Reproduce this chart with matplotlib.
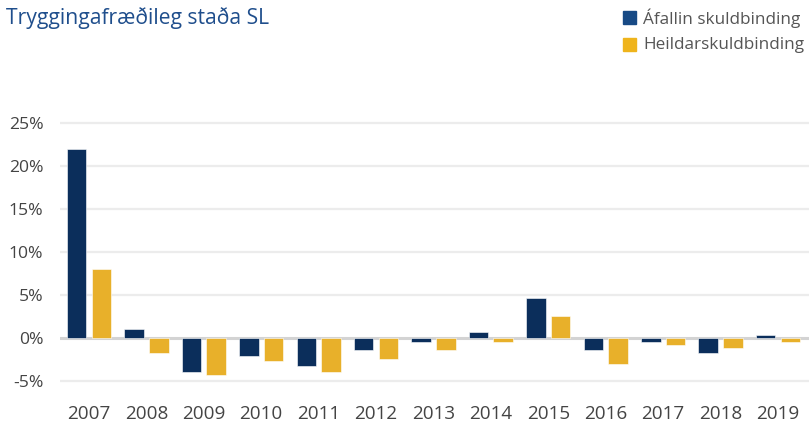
import matplotlib
matplotlib.use("Agg")
import matplotlib.pyplot as plt
import numpy as np

years = ["2007", "2008", "2009", "2010", "2011", "2012", "2013", "2014", "2015", "2016", "2017", "2018", "2019"]
afallin = [22.0, 1.0, -4.0, -2.1, -3.3, -1.4, -0.5, 0.7, 4.7, -1.4, -0.5, -1.8, 0.4]
heildar = [8.0, -1.8, -4.3, -2.7, -4.0, -2.4, -1.4, -0.5, 2.5, -3.0, -0.8, -1.2, -0.5]
yticks = [-5, 0, 5, 10, 15, 20, 25]
title = "Tryggingafræðileg staða SL"
series_names = ["Áfallin skuldbinding", "Heildarskuldbinding"]

navy = "#0b2e5b"
yellow = "#e8b02a"
plt.rcParams['font.family'] = ['Open Sans', 'DejaVu Sans']

fig = plt.figure(figsize=(8.09, 4.28), dpi=100)
ax = fig.add_axes([60/809, 0.0797, 1 - 60/809, 0.7327 - 0.0797])

x = np.arange(len(years))
w = 0.34
off = 0.215
ax.bar(x - off, afallin, width=w, color=navy, edgecolor="white", linewidth=0.4, zorder=3)
ax.bar(x + off, heildar, width=w, color=yellow, edgecolor="white", linewidth=0.4, zorder=3)

ax.set_xlim(-0.505, 12.54)
ax.set_ylim(-6.5, 26)
ax.set_yticks(yticks)
ax.set_yticklabels([f"{v}%" for v in yticks])
ax.set_xticks(x)
ax.set_xticklabels(years)
for v in yticks:
    if v == 0:
        ax.axhline(v, color="#d3d3d3", linewidth=2.2, zorder=2)
    else:
        ax.axhline(v, color="#ececec", linewidth=1.6, zorder=1)
for s in ax.spines.values():
    s.set_visible(False)
ax.tick_params(axis="both", length=0, colors="#444444")
ax.tick_params(axis="y", pad=12, labelsize=12.6)
ax.tick_params(axis="x", pad=8, labelsize=13.6)

fig.text(6/809, 1 - 18/428, title, fontsize=15.2, color="#1f4e8c", va="center", ha="left")

for i, (name, col) in enumerate(zip(series_names, ["#174a85", "#efb41c"])):
    yy = 1 - (18 + 27 * i) / 428
    fig.patches.append(plt.Rectangle((623/809, yy - 6/428), 13/809, 13/428, transform=fig.transFigure, color=col, figure=fig))
    fig.text(643/809, yy, name, fontsize=12.3, color="#555555", va="center", ha="left")

fig.savefig("out.png", dpi=100)
